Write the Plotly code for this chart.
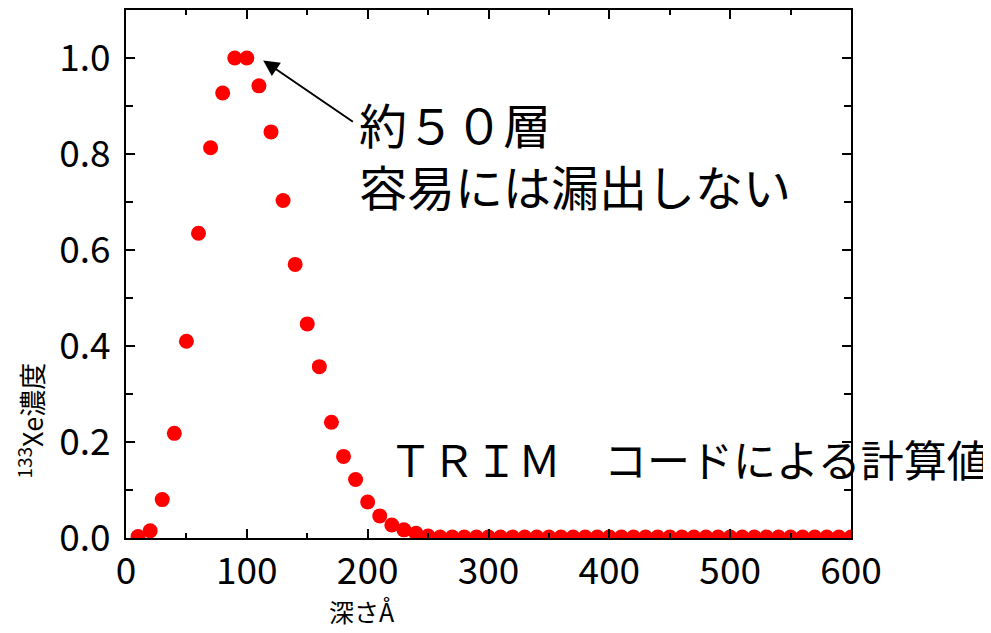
import plotly.graph_objects as go

depth = [10, 20, 30, 40, 50, 60, 70, 80, 90, 100,
         110, 120, 130, 140, 150, 160, 170, 180, 190, 200,
         210, 220, 230, 240, 250, 260, 270, 280, 290, 300,
         310, 320, 330, 340, 350, 360, 370, 380, 390, 400,
         410, 420, 430, 440, 450, 460, 470, 480, 490, 500,
         510, 520, 530, 540, 550, 560, 570, 580, 590, 600]
conc = [0.003, 0.015, 0.080, 0.218, 0.410, 0.635, 0.813, 0.927, 1.000, 1.000,
        0.942, 0.846, 0.703, 0.570, 0.446, 0.357, 0.241, 0.170, 0.122, 0.075,
        0.046, 0.027, 0.017, 0.010, 0.004, 0.002, 0.002, 0.002, 0.002, 0.002,
        0.002, 0.002, 0.002, 0.002, 0.002, 0.002, 0.002, 0.002, 0.002, 0.002,
        0.002, 0.002, 0.002, 0.002, 0.002, 0.002, 0.002, 0.002, 0.002, 0.002,
        0.002, 0.002, 0.002, 0.002, 0.002, 0.002, 0.002, 0.002, 0.002, 0.002]

note_lines = ["約５０層", "容易には漏出しない"]
trim_label = "ＴＲＩＭ　コードによる計算値"
y_title = "<sup>133</sup>Xe濃度"
x_title = "深さÅ"

FONT = "Noto Sans CJK JP"

fig = go.Figure()
fig.add_trace(go.Scatter(
    x=depth, y=conc, mode="markers",
    marker=dict(color="#ff0000", size=15, line=dict(width=0)),
    cliponaxis=True, showlegend=False,
))

axis_common = dict(
    showline=True, linecolor="black", linewidth=2, mirror="ticks",
    ticks="inside", tickcolor="black", tickwidth=2, ticklen=9,
    showgrid=False, zeroline=False,
    tickfont=dict(family=FONT, size=37, color="black"),
)

fig.update_xaxes(range=[0, 600], tickvals=[0, 100, 200, 300, 400, 500, 600],
                 minor=dict(tickvals=[50, 150, 250, 350, 450, 550], ticks="inside",
                            ticklen=5, tickwidth=2, tickcolor="black"),
                 **axis_common)
fig.update_yaxes(range=[0, 1.1], tickvals=[0, 0.2, 0.4, 0.6, 0.8, 1.0], tickformat=".1f",
                 minor=dict(tickvals=[0.1, 0.3, 0.5, 0.7, 0.9], ticks="inside",
                            ticklen=7, tickwidth=2, tickcolor="black"),
                 ticklabelstandoff=6,
                 **axis_common)

# arrow only
fig.add_annotation(x=113.5, y=0.995, ax=189, ay=0.865, xref="x", yref="y",
                   axref="x", ayref="y", text="", showarrow=True,
                   arrowhead=2, arrowsize=1.6, arrowwidth=2, arrowcolor="black", standoff=0)
fig.add_annotation(x=191, y=0.80, xref="x", yref="y", xanchor="left", yanchor="middle",
                   text="<br>".join(note_lines), showarrow=False, align="left",
                   font=dict(family=FONT, size=48, color="black"))
fig.add_annotation(x=216, y=0.166, xref="x", yref="y", xanchor="left", yanchor="middle",
                   text=trim_label, showarrow=False,
                   font=dict(family=FONT, size=43, color="black"))
# axis titles (pixel positions in figure coords, converted below)
fig.add_annotation(x=22, y=412, xref="paper", yref="paper", text=y_title,
                   textangle=-90, showarrow=False, xanchor="center", yanchor="middle",
                   font=dict(family=FONT, size=27, color="black"))
fig.add_annotation(x=354, y=603, xref="paper", yref="paper", text=x_title,
                   showarrow=False, xanchor="center", yanchor="middle",
                   font=dict(family=FONT, size=25, color="black"))

W, H = 991, 633
l, r, t, b = 118, 148, 0, 103
fig.update_layout(
    width=W, height=H,
    margin=dict(l=l, r=r, t=t, b=b),
    paper_bgcolor="white", plot_bgcolor="white",
    font=dict(family=FONT, color="black"),
)

pw, ph = W - l - r, H - t - b
for a in fig.layout.annotations[3:]:
    a.x = (a.x - l) / pw
    a.y = (H - b - a.y) / ph

fig.write_html("out.html")
